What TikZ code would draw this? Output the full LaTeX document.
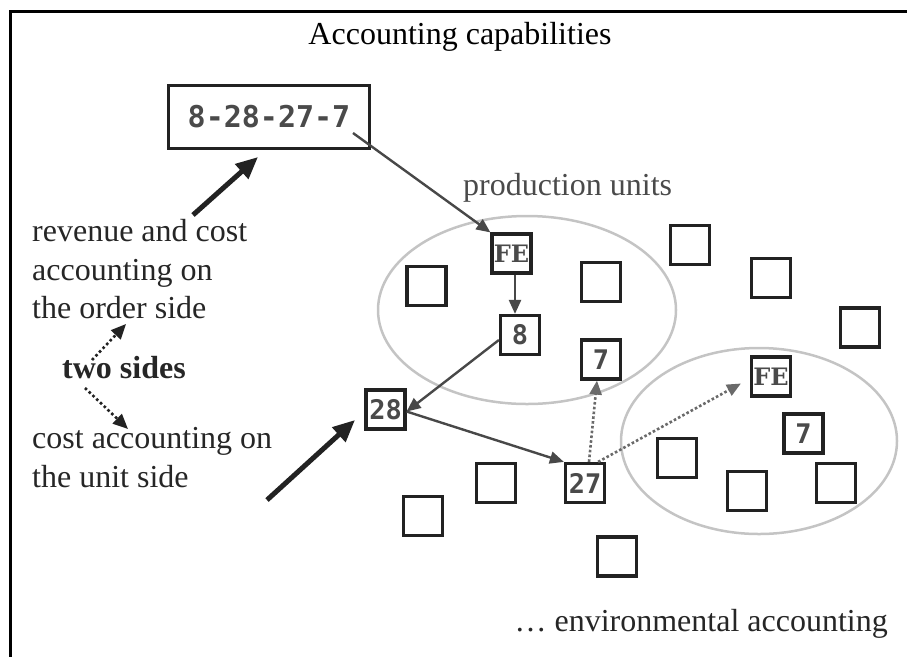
\documentclass[tikz,border=0pt]{standalone}
\usepackage{fontspec}
\setmainfont{Liberation Serif}
\newfontfamily\digmono{DejaVu Sans Mono}
\newfontfamily\feserif{DejaVu Serif}
\usetikzlibrary{arrows.meta,calc}
\definecolor{boxc}{HTML}{222222}
\definecolor{labc}{HTML}{4A4A4A}
\definecolor{arrc}{HTML}{484848}
\definecolor{dotc}{HTML}{6A6A6A}
\definecolor{ellc}{HTML}{C4C4C4}
\definecolor{txtc}{HTML}{262626}
\tikzset{
  sq/.style={draw=boxc, line width=3.2pt, minimum width=39pt, minimum height=39pt, inner sep=0pt, text=labc, font=\digmono\bfseries\fontsize{27}{27}\selectfont},
  fesq/.style={sq, font=\feserif\bfseries\fontsize{24}{24}\selectfont},
  strbox/.style={draw=boxc, line width=3.2pt, minimum width=201pt, minimum height=63pt, inner sep=0pt, text=labc, font=\digmono\bfseries\fontsize{30}{30}\selectfont},
  bigtxt/.style={inner sep=0pt, text=txtc, font=\fontsize{32}{38}\selectfont, anchor=base west},
  flow/.style={draw=arrc, line width=2.4pt, -{Triangle[length=14pt,width=12pt]}},
  dflow/.style={draw=dotc, line width=2.6pt, dash pattern=on 2.6pt off 2.2pt, -{Triangle[length=14pt,width=12pt]}},
  sideflow/.style={draw=boxc, line width=2.6pt, dash pattern=on 2.6pt off 2.6pt, -{Triangle[length=15pt,width=13pt]}},
  bigflow/.style={draw=boxc, line width=5pt, -{Triangle[length=22pt,width=19pt]}},
  unitell/.style={draw=ellc, line width=2.5pt},
}
\begin{document}
\begin{tikzpicture}[x=1pt,y=-1pt]
\useasboundingbox (0,0) rectangle (907,657);
% frame
\draw[line width=3pt, black] (907,11) -- (10,11) -- (10,657);
% title
\node[inner sep=0pt, text=black, font=\fontsize{32}{32}\selectfont] (title) at (460,37) {Accounting capabilities};
% ellipses
\draw[unitell] (527,310) ellipse [x radius=149pt, y radius=94pt];
\draw[unitell] (759,441) ellipse [x radius=138pt, y radius=93pt];
% order string box
\node[strbox] (str) at (269,117) {8-28-27-7};
% production units label
\node[inner sep=0pt, anchor=base west, text=labc, font=\fontsize{32}{32}\selectfont] (prodlbl) at (463,195) {production units};
% labelled boxes
\node[fesq] (fe1) at (511.5,253.5) {FE};
\node[sq] (b8) at (520,335) {8};
\node[sq] (b28) at (385.5,409.5) {28};
\node[sq] (b27) at (585,483) {27};
\node[sq] (b7a) at (601,359.5) {7};
\node[fesq] (fe2) at (771,376.5) {FE};
\node[sq] (b7b) at (803.5,433.5) {7};
% empty boxes
\node[sq] (e1) at (426.5,286) {};
\node[sq] (e2) at (601,282) {};
\node[sq] (e3) at (690,245) {};
\node[sq] (e4) at (771,278) {};
\node[sq] (e5) at (860,327.5) {};
\node[sq] (e6) at (677,458) {};
\node[sq] (e7) at (747,491) {};
\node[sq] (e8) at (836,483) {};
\node[sq] (e9) at (496,483) {};
\node[sq] (e10) at (423,516) {};
\node[sq] (e11) at (617,556.5) {};
% connectors
\coordinate (strfrom) at (353,133);
\draw[flow] (strfrom) -- (fe1.north west);
\draw[flow] ($(fe1.south)+(3.5,0)$) -- ($(b8.north)+(-5,0)$);
\draw[flow] ($(b8.west)+(0,5)$) -- ($(b28.east)+(0,2)$);
\draw[flow] ($(b28.east)+(0,2)$) -- (b27.north west);
\draw[dflow] ($(b27.north)+(4,0)$) -- ($(b7a.south)+(-4,0)$);
\draw[dflow] ($(b27.north east)+(-8,0)$) -- ($(fe2.west)+(-9,7)$);
% left texts
\node[bigtxt] (rev1) at (32,241) {revenue and cost};
\node[bigtxt] (rev2) at (32,280) {accounting on};
\node[bigtxt] (rev3) at (32,318) {the order side};
\node[bigtxt, font=\bfseries\fontsize{32}{38}\selectfont] (two) at (62,378) {two sides};
\node[bigtxt] (cost1) at (32,448) {cost accounting on};
\node[bigtxt] (cost2) at (32,487) {the unit side};
% two sides arrows
\coordinate (tsA) at (92,360);
\coordinate (tsAend) at (126,324);
\coordinate (tsB) at (85,388);
\coordinate (tsBend) at (128,429);
\draw[sideflow] (tsA) -- (tsAend);
\draw[sideflow] (tsB) -- (tsBend);
% thick arrows
\coordinate (thA) at (193,215);
\coordinate (thAend) at (258,157);
\coordinate (thB) at (267,500);
\coordinate (thBend) at (355,420);
\draw[bigflow] (thA) -- (thAend);
\draw[bigflow] (thB) -- (thBend);
% environmental accounting
\node[inner sep=0pt, anchor=base east, text=txtc, font=\fontsize{32}{32}\selectfont] (envlbl) at (888,631) {\dots{} environmental accounting};
\end{tikzpicture}
\end{document}
